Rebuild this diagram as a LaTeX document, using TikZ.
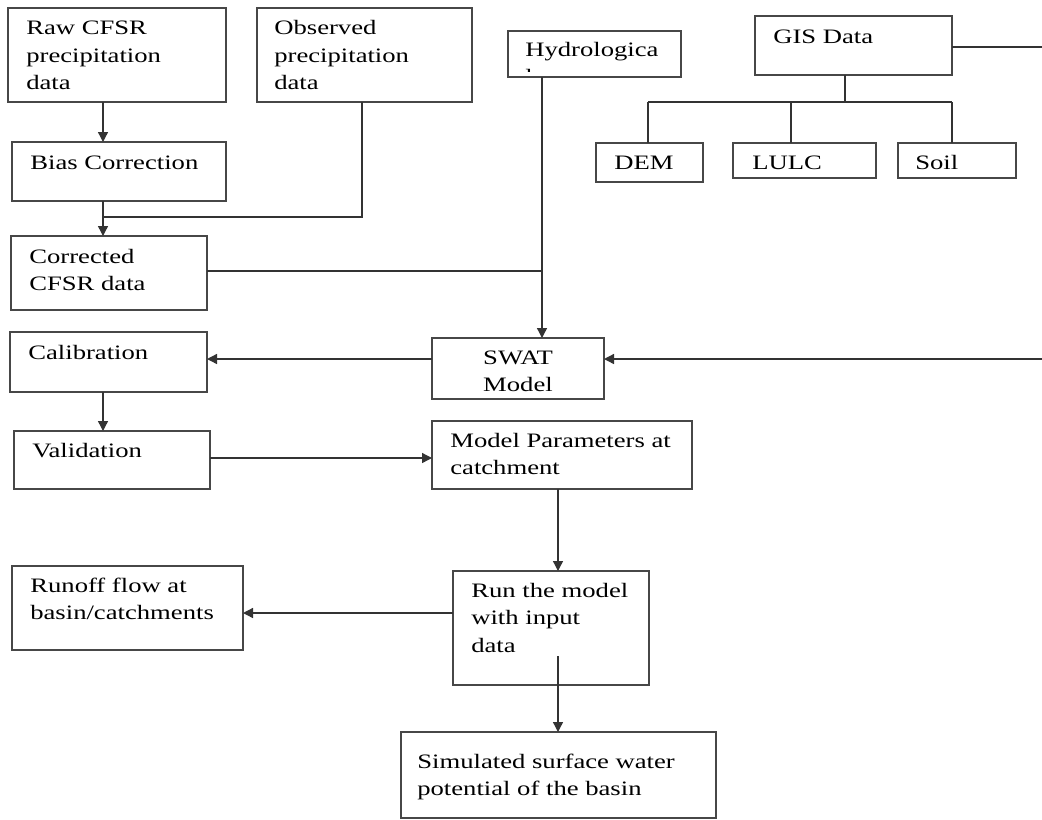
\documentclass[tikz,border=0pt]{standalone}
\usepackage{fontspec}
\setmainfont{Liberation Serif}[FakeStretch=1.3]
\usetikzlibrary{arrows.meta}
\newcommand\mkbox[5]{\node[box, anchor=north west, minimum width={(#4-#2)*0.6pt}, minimum height={(#5-#3)*0.6pt}] (#1) at (#2,#3) {};}
\newcommand\tx[3]{\node[txt] at (#1,#2-19.25) {\strut #3};}
\tikzset{
  box/.style={draw=black!72, line width=0.8pt, inner sep=0pt, outer sep=0pt},
  txt/.style={anchor=north west, inner sep=0pt, align=left, font=\fontsize{12.3}{16.5}\selectfont},
  conn/.style={draw=black!80, line width=0.8pt},
  arr/.style={conn, -{Triangle[length=6pt,width=6pt]}}
}
\begin{document}
\begin{tikzpicture}[x=0.6pt,y=-0.6pt]
\useasboundingbox (0,0) rectangle (1042,819);
% boxes
\mkbox{raw}{8}{8}{226}{102}
\mkbox{obs}{257}{8}{472}{102}
\mkbox{bias}{12}{142}{226}{201}
\mkbox{corr}{11}{236}{207}{310}
\mkbox{hydro}{508}{31}{681}{77}
\mkbox{gis}{755}{16}{952}{75}
\mkbox{dem}{596}{143}{703}{182}
\mkbox{lulc}{733}{143}{876}{178}
\mkbox{soil}{898}{143}{1016}{178}
\mkbox{calib}{10}{332}{207}{392}
\mkbox{valid}{14}{431}{210}{489}
\mkbox{swat}{432}{338}{604}{399}
\mkbox{mp}{432}{421}{692}{489}
\mkbox{runoff}{12}{566}{243}{650}
\mkbox{run}{453}{571}{649}{685}
\mkbox{sim}{401}{732}{716}{818}
% texts
\tx{26}{34.5}{Raw CFSR\\precipitation\\data}
\tx{274}{34.5}{Observed\\precipitation\\data}
\tx{30}{169}{Bias Correction}
\tx{29}{263}{Corrected\\CFSR data}
\begin{scope}
\clip (508,31) rectangle (681,71);
\tx{525}{56}{Hydrologica\\l}
\end{scope}
\tx{773}{43}{GIS Data}
\tx{614}{169}{DEM}
\tx{752}{169}{LULC}
\tx{915}{169}{Soil}
\tx{28}{359}{Calibration}
\tx{32}{457}{Validation}
\node[txt, anchor=north, align=center] at (518,364-19.25) {\strut SWAT\\Model};
\tx{450}{447}{Model Parameters at\\catchment}
\tx{30}{592}{Runoff flow at\\basin/catchments}
\tx{471}{597}{Run the model\\with input\\data}
\tx{417}{768}{Simulated surface water\\potential of the basin}
% lanes
\coordinate (lA) at (103,0);
\coordinate (lO) at (362,0);
\coordinate (lH) at (542,0);
\coordinate (lM) at (558,0);
\coordinate (jB) at (103,217);
\coordinate (yC) at (0,271);
\coordinate (yS) at (0,359);
\coordinate (yV) at (0,458);
\coordinate (yR) at (0,613);
\coordinate (gR) at (1042,47);
\coordinate (sR) at (1042,359);
\coordinate (rIn) at (558,656);
\coordinate (tL) at (648,102);
\coordinate (tR) at (952,102);
% connectors
\draw[arr] (raw.south -| lA) -- (bias.north -| lA);
\draw[arr] (bias.south -| lA) -- (corr.north -| lA);
\draw[conn] (obs.south -| lO) |- (jB);
\draw[conn] (corr.east |- yC) -- (lH |- yC);
\draw[arr] (hydro.south -| lH) -- (swat.north -| lH);
\draw[arr] (swat.west |- yS) -- (calib.east |- yS);
\draw[conn] (gis.east |- gR) -- (gR);
\draw[arr] (sR) -- (swat.east |- sR);
\draw[arr] (calib.south -| lA) -- (valid.north -| lA);
\draw[arr] (valid.east |- yV) -- (mp.west |- yV);
\draw[arr] (mp.south -| lM) -- (run.north -| lM);
\draw[arr] (run.west |- yR) -- (runoff.east |- yR);
\draw[arr] (rIn) -- (sim.north -| lM);
\draw[conn] (gis.south -| 845,0) -- (845,102);
\draw[conn] (tL) -- (tR);
\draw[conn] (tL) -- (dem.north -| tL);
\draw[conn] (791,102) -- (lulc.north -| 791,0);
\draw[conn] (tR) -- (soil.north -| tR);
\end{tikzpicture}
\end{document}
